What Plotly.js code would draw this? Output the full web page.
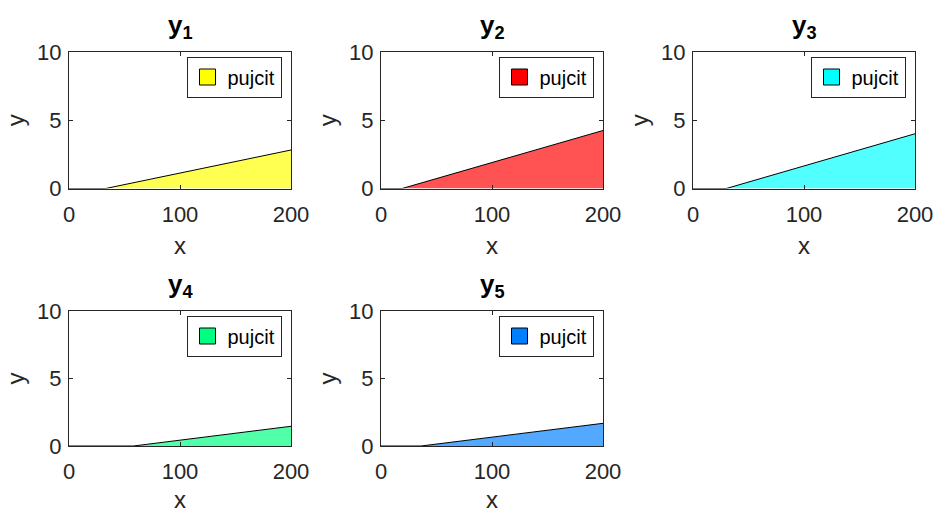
<!DOCTYPE html>
<html>
<head>
<meta charset="utf-8">
<script src="https://cdn.plot.ly/plotly-3.0.1.min.js"></script>
<style>html,body{margin:0;padding:0;background:#fff;}#chart{width:935px;height:513px;}</style>
</head>
<body>
<div id="chart"></div>
<script>
// ---- data ----
var titles = ['y<sub>1</sub>', 'y<sub>2</sub>', 'y<sub>3</sub>', 'y<sub>4</sub>', 'y<sub>5</sub>'];
var legendName = 'pujcit';
var x1 = [0, 33, 200];  var y1 = [0, 0, 2.82];
var x2 = [0, 19, 200];  var y2 = [0, 0, 4.25];
var x3 = [0, 30, 200];  var y3 = [0, 0, 4.01];
var x4 = [0, 58, 200];  var y4 = [0, 0, 1.46];
var x5 = [0, 36, 200];  var y5 = [0, 0, 1.68];
var xTicks = [0, 100, 200];
var yTicks = [0, 5, 10];
var xRange = [0, 200];
var yRange = [0, 10];

// ---- styling ----
var colors = ['rgb(255,255,0)', 'rgb(255,0,0)', 'rgb(0,255,255)', 'rgb(0,255,128)', 'rgb(0,128,255)'];
var fills = ['rgba(255,255,0,0.68)', 'rgba(255,0,0,0.68)', 'rgba(0,255,255,0.68)', 'rgba(0,255,128,0.68)', 'rgba(0,128,255,0.68)'];
var xs = [x1, x2, x3, x4, x5];
var ys = [y1, y2, y3, y4, y5];

var W = 935, H = 513;
var xDom = [[69, 291], [381, 603], [693, 915]];
var yDom = [[52, 188.5], [311, 446]];
function px(a){ return a / W; }
function py(a){ return 1 - a / H; }

var ink = '#262626';
var font = 'Liberation Sans, Arial, Helvetica, sans-serif';

var data = [];
var layout = {
  width: W, height: H,
  margin: {l: 0, r: 0, t: 0, b: 0},
  paper_bgcolor: '#fff', plot_bgcolor: '#fff',
  font: {family: font, size: 22, color: ink},
  showlegend: true,
  annotations: []
};

for (var i = 0; i < 5; i++) {
  var row = Math.floor(i / 3), col = i % 3;
  var n = i + 1;
  var xa = 'x' + (n === 1 ? '' : n), ya = 'y' + (n === 1 ? '' : n);
  var lg = 'legend' + (n === 1 ? '' : n);
  data.push({
    type: 'scatter', mode: 'lines', x: xs[i], y: ys[i],
    xaxis: xa, yaxis: ya, fill: 'tozeroy', fillcolor: fills[i],
    line: {color: '#000', width: 1}, showlegend: false, hoverinfo: 'skip'
  });
  // legend-only entry (full colour swatch)
  data.push({
    type: 'scatter', mode: 'markers', x: [null], y: [null],
    xaxis: xa, yaxis: ya, name: legendName, legend: lg,
    marker: {symbol: 'square', size: 16, color: colors[i], line: {color: '#000', width: 1}},
    showlegend: true
  });
  var axCommon = {
    showgrid: false, zeroline: false, showline: true, mirror: 'allticks',
    linecolor: ink, linewidth: 1, ticks: 'inside', ticklen: 4, tickcolor: ink,
    tickfont: {family: font, size: 22, color: ink}, fixedrange: true
  };
  layout['xaxis' + (n === 1 ? '' : n)] = Object.assign({}, axCommon, {
    domain: [px(xDom[col][0]), px(xDom[col][1])], anchor: ya,
    range: xRange, tickvals: xTicks, ticktext: xTicks.map(String),
    ticklabelstandoff: 6,
    title: {text: 'x', font: {family: font, size: 24, color: ink}, standoff: 11}
  });
  layout['yaxis' + (n === 1 ? '' : n)] = Object.assign({}, axCommon, {
    domain: [py(yDom[row][1]), py(yDom[row][0])], anchor: xa,
    range: yRange, tickvals: yTicks, ticktext: yTicks.map(String),
    ticklabelstandoff: 2,
    title: {text: 'y', font: {family: font, size: 24, color: ink}, standoff: 5}
  });
  layout[lg] = {
    x: px(xDom[col][1] - 9.5), y: py(yDom[row][0] + 25),
    xanchor: 'right', yanchor: 'middle',
    bgcolor: '#fff', bordercolor: ink, borderwidth: 1,
    font: {family: font, size: 20, color: '#000'},
    itemwidth: 30, tracegroupgap: 0
  };
  layout.annotations.push({
    xref: 'paper', yref: 'paper',
    x: px((xDom[col][0] + xDom[col][1]) / 2), y: py(yDom[row][0] - 7),
    xanchor: 'center', yanchor: 'bottom', showarrow: false,
    text: '<b>' + titles[i] + '</b>',
    font: {family: font, size: 26, color: '#000'}
  });
}

Plotly.newPlot('chart', data, layout, {staticPlot: true});
</script>
</body>
</html>
